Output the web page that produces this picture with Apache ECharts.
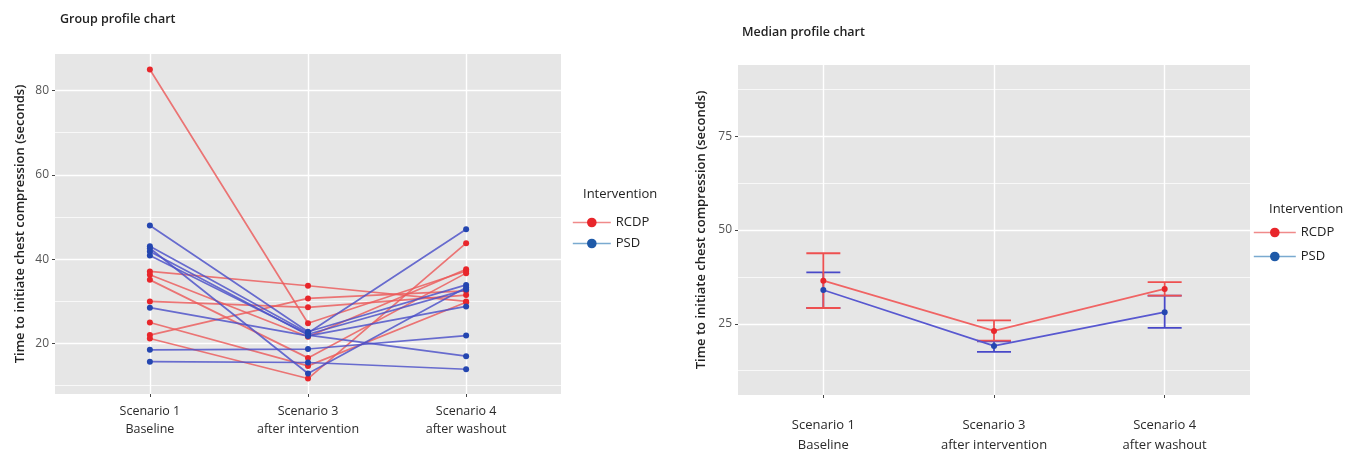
<!DOCTYPE html>
<html><head><meta charset="utf-8">
<script src="https://cdn.jsdelivr.net/npm/echarts@6/dist/echarts.min.js"></script>
<style>html,body{margin:0;padding:0;background:#fff}#c{width:1352px;height:453px}</style>
</head><body><div id="c"></div>
<script>
// ---------- data ----------
const scenarios = ['Scenario 1\nBaseline', 'Scenario 3\nafter intervention', 'Scenario 4\nafter washout'];
const groupNames = ['RCDP', 'PSD'];
// Group profile chart: one row per participant (Scenario 1, 3, 4), seconds
const rcdpProfiles = [
  [85.0, 24.8, 37.2],
  [37.1, 33.7, 30.0],
  [36.3, 21.6, 37.6],
  [35.1, 16.6, 36.7],
  [30.0, 28.6, 31.5],
  [25.0, 14.7, 29.8],
  [22.0, 30.7, 32.5],
  [21.2, 11.7, 43.8]
];
const psdProfiles = [
  [48.0, 22.8, 33.9],
  [43.1, 22.5, 47.1],
  [42.6, 12.9, 33.3],
  [41.8, 22.0, 17.0],
  [40.9, 22.2, 32.8],
  [28.5, 21.8, 28.8],
  [18.5, 18.7, 21.9],
  [15.7, 15.5, 13.9]
];
// Median profile chart
const rcdpMedian = [36.5, 23.1, 34.3];
const rcdpLower  = [29.2, 20.5, 32.5];
const rcdpUpper  = [43.8, 25.9, 36.1];
const psdMedian  = [34.0, 19.1, 28.1];
const psdLower   = [29.2, 17.5, 23.9];
const psdUpper   = [38.7, 20.3, 32.5];
// tick labels
const leftYTicks = [20, 40, 60, 80];
const leftYMinor = [10, 30, 50, 70];
const rightYTicks = [25, 50, 75];
const rightYMinor = [12.5, 37.5, 62.5, 87.5];
const rightYLimits = [10, 90];

// ---------- styling ----------
const FONT = 'Open Sans';
const RED_PT = '#e8262b', RED_LN = '#ec5a5a';
const BLUE_PT = '#2446b0', BLUE_LN = '#4a4fc8';
const xPos = scenarios.map((s, i) => i + 1);

const allVals = rcdpProfiles.flat().concat(psdProfiles.flat());
const lMin = Math.min(...allVals), lMax = Math.max(...allVals);
const lPad = (lMax - lMin) * 0.05;
const rPad = (rightYLimits[1] - rightYLimits[0]) * 0.05;

function gridSeries(xi, yi, hMajor, hMinor) {
  const d = [];
  xPos.forEach(v => d.push({ xAxis: v, lineStyle: { width: 1.4 } }));
  hMajor.forEach(v => d.push({ yAxis: v, lineStyle: { width: 1.4 } }));
  hMinor.forEach(v => d.push({ yAxis: v, lineStyle: { width: 0.7 } }));
  return {
    type: 'line', xAxisIndex: xi, yAxisIndex: yi, data: [], z: 1, silent: true,
    markLine: { silent: true, z: 1, symbol: 'none', animation: false, label: { show: false },
      lineStyle: { color: '#ffffff', type: 'solid' }, emphasis: { disabled: true }, data: d }
  };
}

const series = [gridSeries(0, 0, leftYTicks, leftYMinor), gridSeries(1, 1, rightYTicks, rightYMinor)];

function profileSeries(rows, name, ptColor, lnColor) {
  rows.forEach(r => series.push({
    type: 'line', name: name, xAxisIndex: 0, yAxisIndex: 0, z: 3,
    data: r.map((v, i) => [xPos[i], v]),
    symbol: 'circle', symbolSize: 6, animation: false,
    itemStyle: { color: ptColor },
    lineStyle: { color: lnColor, width: 1.7, opacity: 0.82 },
    emphasis: { disabled: true }
  }));
}
profileSeries(rcdpProfiles, 'RCDP', RED_PT, RED_LN);
profileSeries(psdProfiles, 'PSD', BLUE_PT, BLUE_LN);

function errorSeries(lo, hi, name, color) {
  return {
    type: 'custom', name: name, xAxisIndex: 1, yAxisIndex: 1, z: 6, animation: false,
    data: lo.map((v, i) => [xPos[i], v, hi[i]]),
    renderItem: function (params, api) {
      const x = api.value(0);
      const a = api.coord([x, api.value(1)]);
      const b = api.coord([x, api.value(2)]);
      const hw = 17;
      const st = { stroke: color, lineWidth: 1.8, fill: null };
      return { type: 'group', children: [
        { type: 'line', shape: { x1: a[0], y1: a[1], x2: b[0], y2: b[1] }, style: st },
        { type: 'line', shape: { x1: a[0] - hw, y1: a[1], x2: a[0] + hw, y2: a[1] }, style: st },
        { type: 'line', shape: { x1: b[0] - hw, y1: b[1], x2: b[0] + hw, y2: b[1] }, style: st }
      ]};
    }
  };
}
series.push(errorSeries(psdLower, psdUpper, 'PSD', '#4848c8'));
series.push(errorSeries(rcdpLower, rcdpUpper, 'RCDP', '#ee5050'));
function medianSeries(vals, name, ptColor, lnColor) {
  return {
    type: 'line', name: name, xAxisIndex: 1, yAxisIndex: 1, z: 7, animation: false,
    data: vals.map((v, i) => [xPos[i], v]),
    symbol: 'circle', symbolSize: 6,
    itemStyle: { color: ptColor },
    lineStyle: { color: lnColor, width: 1.6 },
    emphasis: { disabled: true }
  };
}
series.push(medianSeries(psdMedian, 'PSD', BLUE_PT, '#5858d0'));
series.push(medianSeries(rcdpMedian, 'RCDP', RED_PT, '#f06464'));

function xAxis(gi, min, max, margin, size, lh) {
  return {
    type: 'value', gridIndex: gi, min: min, max: max,
    axisLine: { show: false }, splitLine: { show: false },
    axisTick: { show: true, customValues: xPos, length: 3, lineStyle: { color: '#444', width: 1 } },
    axisLabel: { customValues: xPos, margin: margin, formatter: v => scenarios[Math.round(v) - 1],
      color: '#2a2a2a', fontFamily: FONT, fontSize: size, lineHeight: lh }
  };
}
function yAxis(gi, min, max, ticks, gap, size) {
  return {
    type: 'value', gridIndex: gi, min: min, max: max,
    axisLine: { show: false }, splitLine: { show: false },
    axisTick: { show: true, customValues: ticks, length: 3, lineStyle: { color: '#444', width: 1 } },
    axisLabel: { customValues: ticks, margin: 6, color: '#555', fontFamily: FONT, fontSize: size },
    name: 'Time to initiate chest compression (seconds)', nameLocation: 'middle', nameGap: gap,
    nameTextStyle: { color: '#222', fontFamily: FONT, fontSize: size + 1, fontWeight: 600 }
  };
}
function legendOf(left, top, w, gap) {
  return {
    left: left, top: top, orient: 'vertical', itemWidth: w, itemHeight: 12, itemGap: gap,
    selectedMode: false,
    textStyle: { fontFamily: FONT, fontSize: 13, color: '#222' },
    data: [
      { name: 'RCDP', itemStyle: { color: RED_PT }, lineStyle: { color: '#f08a8a', width: 1.6, opacity: 1 } },
      { name: 'PSD', itemStyle: { color: '#1f5aa8' }, lineStyle: { color: '#7aaad0', width: 1.6, opacity: 1 } }
    ]
  };
}

const chart = echarts.init(document.getElementById('c'), null, { renderer: 'canvas' });
chart.setOption({
  backgroundColor: '#ffffff',
  animation: false,
  title: [
    { text: 'Group profile chart', left: 55, top: 8, textStyle: { fontFamily: FONT, fontSize: 12.5, fontWeight: 600, color: '#222' } },
    { text: 'Median profile chart', left: 737, top: 21, textStyle: { fontFamily: FONT, fontSize: 12.5, fontWeight: 600, color: '#222' } },
    { text: 'Intervention', left: 578, top: 183, textStyle: { fontFamily: FONT, fontSize: 13, fontWeight: 'normal', color: '#222' } },
    { text: 'Intervention', left: 1264, top: 198, textStyle: { fontFamily: FONT, fontSize: 13, fontWeight: 'normal', color: '#222' } }
  ],
  legend: [legendOf(567, 211, 38, 8), legendOf(1248, 221, 42, 11)],
  grid: [
    { left: 55, top: 54, width: 506, height: 340, show: true, backgroundColor: '#e6e6e6', borderWidth: 0, outerBoundsMode: 'none' },
    { left: 738, top: 65, width: 512, height: 330, show: true, backgroundColor: '#e6e6e6', borderWidth: 0, outerBoundsMode: 'none' }
  ],
  xAxis: [xAxis(0, 0.4, 3.6, 8, 12.5, 18), xAxis(1, 0.5, 3.5, 20, 13, 20)],
  yAxis: [yAxis(0, lMin - lPad, lMax + lPad, leftYTicks, 28, 12), yAxis(1, rightYLimits[0] - rPad, rightYLimits[1] + rPad, rightYTicks, 30, 12)],
  series: series
});
</script></body></html>
